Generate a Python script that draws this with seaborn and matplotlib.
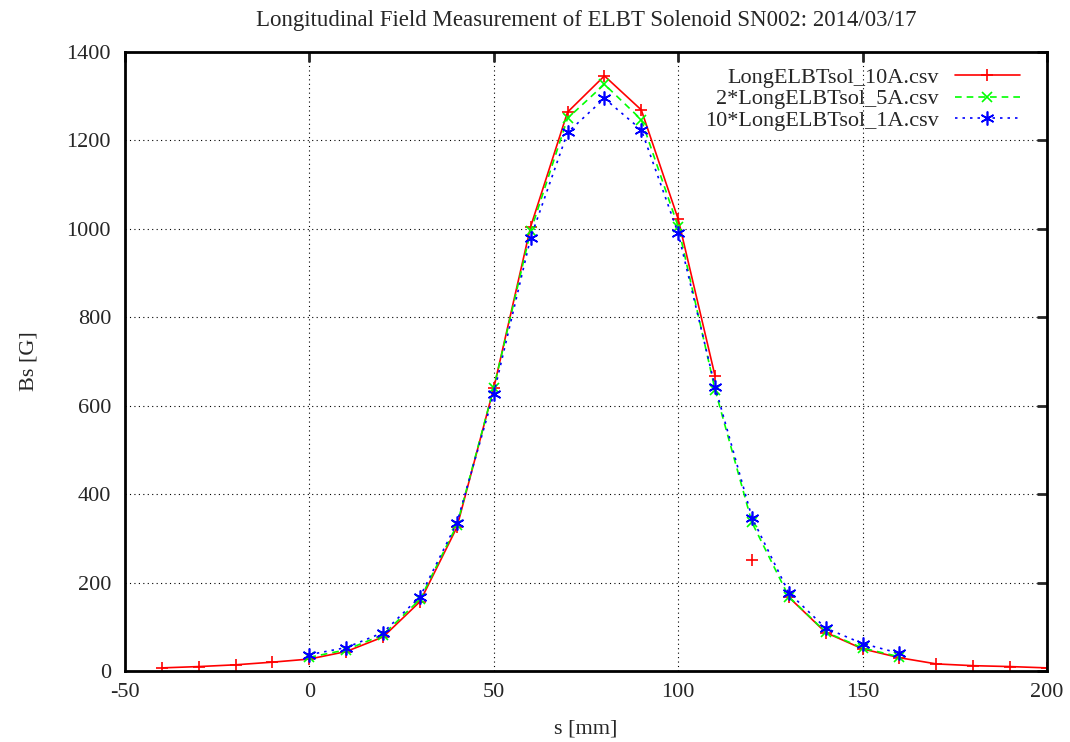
import matplotlib
matplotlib.use("Agg")
import matplotlib.pyplot as plt
import pandas as pd
import seaborn as sns
from matplotlib.lines import Line2D

# data (Bs in G vs s in mm)
s_10a = [-40, -30, -20, -10, 0, 10, 20, 30, 40, 50, 60, 70, 80, 90, 100, 110,
         120, 130, 140, 150, 160, 170, 180, 190, 200]
bs_10a = [7, 10, 14, 20, 27, 44, 77, 157, 325, 640, 1005, 1264, 1346, 1269,
          1022, 667, 251, 167, 87, 50, 30, 16, 12, 10, 7]
# line breaks around the s=120 reading in the 10A file
seg_10a = [0] * 16 + [1] + [2] * 8

s_5a = [0, 10, 20, 30, 40, 50, 60, 70, 80, 90, 100, 110, 120, 130, 140, 150, 160]
bs_5a = [31, 48, 82, 162, 330, 640, 995, 1250, 1327, 1247, 1005, 636, 336,
         168, 88, 52, 32]

s_1a = [0, 10, 20, 30, 40, 50, 60, 70, 80, 90, 100, 110, 120, 130, 140, 150, 160]
bs_1a = [37, 53, 87, 168, 335, 627, 980, 1218, 1295, 1224, 990, 643, 347,
         177, 97, 62, 40]

labels = ["LongELBTsol_10A.csv", "2*LongELBTsol_5A.csv", "10*LongELBTsol_1A.csv"]

sns.set_style("white")
plt.rcParams["font.family"] = ["Liberation Serif", "DejaVu Serif"]
plt.rcParams["font.size"] = 16
plt.rcParams["axes.unicode_minus"] = False

df_10a = pd.DataFrame({"s": s_10a, "bs": bs_10a, "seg": seg_10a})
df_5a = pd.DataFrame({"s": s_5a, "bs": bs_5a})
df_1a = pd.DataFrame({"s": s_1a, "bs": bs_1a})

fig = plt.figure(figsize=(10.7, 7.42), dpi=100)
ax = fig.add_axes([0.1168, 0.0957, 0.8617, 0.8342])

red = "#ff0000"
green = "#00ff00"
blue = "#0000ff"

sns.lineplot(data=df_10a, x="s", y="bs", units="seg", estimator=None, ax=ax,
             color=red, lw=1.2, marker="+", markersize=9, mew=1.2,
             mec=red, linestyle="-")
sns.lineplot(data=df_5a, x="s", y="bs", ax=ax, color=green, lw=1.2,
             marker="x", markersize=7, mew=1.2, mec=green, linestyle=(0, (4, 3)))
sns.lineplot(data=df_1a, x="s", y="bs", ax=ax, color=blue, lw=1.2,
             marker=(6, 2, 0), markersize=10, mew=1.2, mec=blue,
             linestyle=(0, (1.5, 3)))

ax.set_xlim(-50, 200)
ax.set_ylim(0, 1400)
ax.set_xticks(range(-50, 201, 50))
ax.set_yticks(range(0, 1401, 200))
ax.grid(True, color="black", linestyle=(0, (1, 3)), linewidth=0.8)
ax.tick_params(direction="in", length=7, width=2, top=True, right=True,
               labelsize=16)
ax.tick_params(axis="x", pad=9)
ax.tick_params(axis="y", pad=10)
for sp in ax.spines.values():
    sp.set_linewidth(2)
    sp.set_color("black")

ax.set_xlabel("s [mm]", fontsize=16, labelpad=12)
ax.set_ylabel("Bs [G]", fontsize=16, labelpad=20)
ax.set_title("Longitudinal Field Measurement of ELBT Solenoid SN002: 2014/03/17",
             fontsize=16.5, pad=19)

handles = [
    Line2D([], [], color=red, lw=1.2, marker="+", markersize=9, mew=1.2),
    Line2D([], [], color=green, lw=1.2, marker="x", markersize=7, mew=1.2,
           linestyle=(0, (4, 3))),
    Line2D([], [], color=blue, lw=1.2, marker=(6, 2, 0), markersize=10,
           mew=1.2, linestyle=(0, (1.5, 3))),
]
ax.legend(handles, labels, loc="upper right", bbox_to_anchor=(0.98, 0.99),
          frameon=False, markerfirst=False, handlelength=2.9, labelspacing=0.05,
          handletextpad=0.75, borderaxespad=0, fontsize=16, numpoints=1)

fig.savefig("out.png", dpi=100)
